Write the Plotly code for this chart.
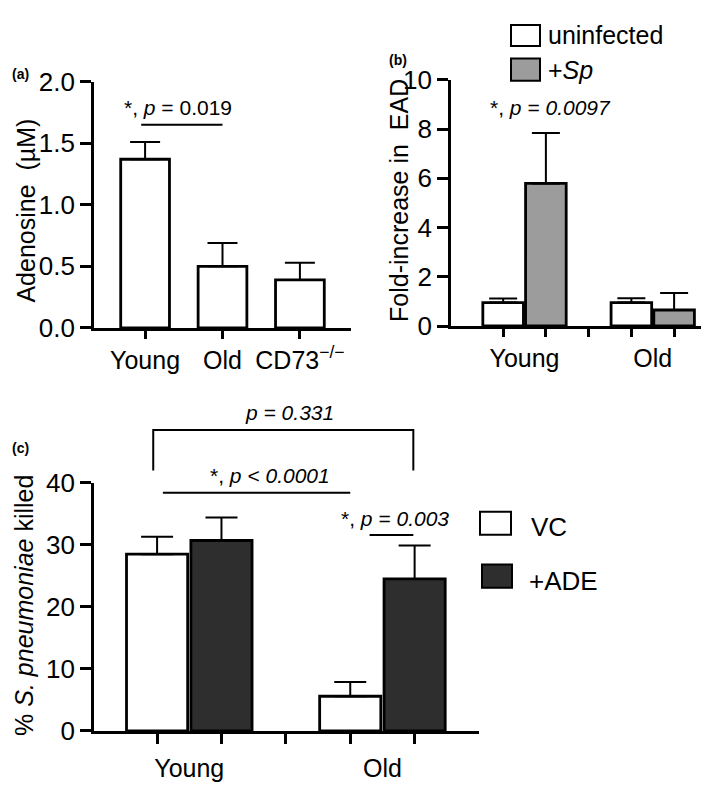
import plotly.graph_objects as go

W, H = 709, 788
FONT = "Arial, 'Liberation Sans', Helvetica, sans-serif"

# ---------------- data ----------------
# Panel (a)
a_categories = ["Young", "Old", "CD73<sup>−/−</sup>"]
a_means = [1.37, 0.50, 0.39]
a_sem = [0.14, 0.19, 0.14]
a_yticks = [0.0, 0.5, 1.0, 1.5, 2.0]

# Panel (b)
b_groups = ["Young", "Old"]
b_series = ["uninfected", "+<i>Sp</i>"]
b_uninfected = [0.95, 0.95]
b_uninfected_sem = [0.17, 0.18]
b_sp = [5.79, 0.65]
b_sp_sem = [2.05, 0.69]
b_yticks = [0, 2, 4, 6, 8, 10]

# Panel (c)
c_groups = ["Young", "Old"]
c_series = ["VC", "+ADE"]
c_vc = [28.5, 5.6]
c_vc_sem = [2.8, 2.3]
c_ade = [30.7, 24.5]
c_ade_sem = [3.7, 5.4]
c_yticks = [0, 10, 20, 30, 40]

# ---------------- geometry helpers ----------------
def PX(x):
    return x / W

def PY(y):
    return 1 - y / H

dom = {
    "a": dict(x=[PX(86), PX(343)], y=[PY(317), PY(61)], xr=[-0.66, 2.66], yr=[0, 2.0]),
    "b": dict(x=[PX(443), PX(708)], y=[PY(315), PY(59)], xr=[-1.22, 4.98], yr=[0, 10]),
    "c": dict(x=[PX(86), PX(471)], y=[PY(736), PY(478)], xr=[-0.98, 5.0], yr=[0, 40]),
}

def dx(p, v):
    d = dom[p]
    return d["x"][0] + (v - d["xr"][0]) / (d["xr"][1] - d["xr"][0]) * (d["x"][1] - d["x"][0])

def dy(p, v):
    d = dom[p]
    return d["y"][0] + (v - d["yr"][0]) / (d["yr"][1] - d["yr"][0]) * (d["y"][1] - d["y"][0])

LW = 2.8
bar_line = dict(color="black", width=LW)

def err(arr, w):
    return dict(type="data", array=arr, arrayminus=[0] * len(arr), symmetric=False,
                color="black", thickness=2, width=w)

fig = go.Figure()

# Panel (a)
fig.add_trace(go.Bar(x=a_categories, y=a_means, width=0.63,
                     marker=dict(color="white", line=bar_line),
                     error_y=err(a_sem, 15), xaxis="x", yaxis="y", showlegend=False))

# Panel (b)
nser = len(b_series) + 1
b_pos_unf = [g * nser + 0 for g in range(len(b_groups))]
b_pos_sp = [g * nser + 1 for g in range(len(b_groups))]
fig.add_trace(go.Bar(x=b_pos_unf, y=b_uninfected, width=0.95, name=b_series[0],
                     marker=dict(color="white", line=bar_line),
                     error_y=err(b_uninfected_sem, 14), xaxis="x2", yaxis="y2", showlegend=False))
fig.add_trace(go.Bar(x=b_pos_sp, y=b_sp, width=0.95, name=b_series[1],
                     marker=dict(color="#9c9c9c", line=bar_line),
                     error_y=err(b_sp_sem, 14), xaxis="x2", yaxis="y2", showlegend=False))

# Panel (c)
c_pos_vc = [g * nser + 0 for g in range(len(c_groups))]
c_pos_ade = [g * nser + 1 for g in range(len(c_groups))]
fig.add_trace(go.Bar(x=c_pos_vc, y=c_vc, width=0.95, name=c_series[0],
                     marker=dict(color="white", line=bar_line),
                     error_y=err(c_vc_sem, 16), xaxis="x3", yaxis="y3", showlegend=False))
fig.add_trace(go.Bar(x=c_pos_ade, y=c_ade, width=0.95, name=c_series[1],
                     marker=dict(color="#2e2e2e", line=bar_line),
                     error_y=err(c_ade_sem, 16), xaxis="x3", yaxis="y3", showlegend=False))

axis_common = dict(showline=True, linewidth=LW, linecolor="black", showgrid=False,
                   zeroline=False, ticks="outside", tickwidth=LW, tickcolor="black",
                   tickfont=dict(size=25, color="black", family=FONT), fixedrange=True)
ytick_font = dict(size=26, color="black", family=FONT)

grp_ticks = lambda groups: [g * nser + 0.5 for g in range(len(groups))]
all_ticks = lambda groups: list(range(len(groups) * nser - 1))

fig.update_layout(
    width=W, height=H, margin=dict(l=0, r=0, t=0, b=0),
    paper_bgcolor="white", plot_bgcolor="white",
    font=dict(family=FONT, color="black"),
    barmode="overlay",
    xaxis=dict(axis_common, domain=dom["a"]["x"], range=dom["a"]["xr"], anchor="y",
               type="category", ticklen=8),
    yaxis=dict(axis_common, domain=dom["a"]["y"], range=dom["a"]["yr"], anchor="x",
               tickvals=a_yticks, tickformat=".1f", ticklen=11, tickfont=ytick_font),
    xaxis2=dict(axis_common, domain=dom["b"]["x"], range=dom["b"]["xr"], anchor="y2",
                tickvals=grp_ticks(b_groups), ticktext=b_groups, ticklen=8,
                tickcolor="rgba(0,0,0,0)",
                minor=dict(tickvals=all_ticks(b_groups), ticks="outside", ticklen=8,
                           tickwidth=LW, tickcolor="black")),
    yaxis2=dict(axis_common, domain=dom["b"]["y"], range=dom["b"]["yr"], anchor="x2",
                tickvals=b_yticks, ticklen=11, tickfont=ytick_font),
    xaxis3=dict(axis_common, domain=dom["c"]["x"], range=dom["c"]["xr"], anchor="y3",
                tickvals=grp_ticks(c_groups), ticktext=c_groups, ticklen=13,
                tickcolor="rgba(0,0,0,0)",
                minor=dict(tickvals=all_ticks(c_groups), ticks="outside", ticklen=10,
                           tickwidth=LW, tickcolor="black")),
    yaxis3=dict(axis_common, domain=dom["c"]["y"], range=dom["c"]["yr"], anchor="x3",
                tickvals=c_yticks, ticklen=11, tickfont=ytick_font),
)

shapes = []
ann = []

def line(x0, y0, x1, y1, w=2):
    shapes.append(dict(type="line", xref="paper", yref="paper", x0=x0, y0=y0, x1=x1, y1=y1,
                       line=dict(color="black", width=w)))

def text(x, y, s, size=21, xanchor="center", yanchor="middle", angle=0):
    ann.append(dict(x=x, y=y, xref="paper", yref="paper", text=s, showarrow=False,
                    xanchor=xanchor, yanchor=yanchor, textangle=angle,
                    font=dict(size=size, family=FONT, color="black")))

# Y titles
text(PX(18), PY(195), "Adenosine\u00a0\u00a0(µM)", size=25, angle=-90)
text(PX(391), PY(185), "Fold-increase in\u00a0\u00a0EAD", size=25, angle=-90)
text(PX(16), PY(606), "% <i>S. pneumoniae</i> killed", size=25, angle=-90)

# Panel labels
text(PX(12), PY(53), "<b>(a)</b>", size=14)
text(PX(390), PY(38), "<b>(b)</b>", size=14)
text(PX(12), PY(442), "<b>(c)</b>", size=14)

# Significance (a)
line(dx("a", -0.05), dy("a", 1.65), dx("a", 1.0), dy("a", 1.65))
text(dx("a", 0.43), dy("a", 1.79), "*, <i>p</i> = 0.019")

# Significance (b)
text(dx("b", 1.1), dy("b", 8.87), "*, <i>p = 0.0097</i>")

# Significance (c)
shapes.append(dict(type="path", xref="paper", yref="paper",
                   path="M {0},{1} L {0},{2} L {3},{2} L {3},{1}".format(
                       dx("c", -0.06), dy("c", 42.0), dy("c", 48.5), dx("c", 3.98)),
                   line=dict(color="black", width=2)))
text(dx("c", 2.06), dy("c", 51.3), "<i>p = 0.331</i>", size=21)
line(dx("c", 0.09), dy("c", 38.4), dx("c", 3.0), dy("c", 38.4))
text(dx("c", 1.75), dy("c", 41.2), "*, <i>p &lt; 0.0001</i>", size=21)
line(dx("c", 3.30), dy("c", 31.6), dx("c", 3.98), dy("c", 31.6))
text(dx("c", 3.69), dy("c", 34.3), "*, <i>p = 0.003</i>", size=21)

# Legends
def legend_item(x0, y0, x1, y1, color, label, tx, ty, size=25):
    shapes.append(dict(type="rect", xref="paper", yref="paper", x0=PX(x0), x1=PX(x1),
                       y0=PY(y1), y1=PY(y0), fillcolor=color,
                       line=dict(color="black", width=2)))
    text(PX(tx), PY(ty), label, size=size, xanchor="left")

legend_item(503, 2, 532, 24, "white", b_series[0], 538, 12)
legend_item(503, 37, 532, 60, "#9c9c9c", b_series[1], 538, 49)
legend_item(472, 508, 503, 532, "white", c_series[0], 521, 524, size=26)
legend_item(474, 563, 504, 587, "#2e2e2e", c_series[1], 519, 580, size=26)

fig.update_layout(shapes=shapes, annotations=ann)

fig.write_html("out.html")
